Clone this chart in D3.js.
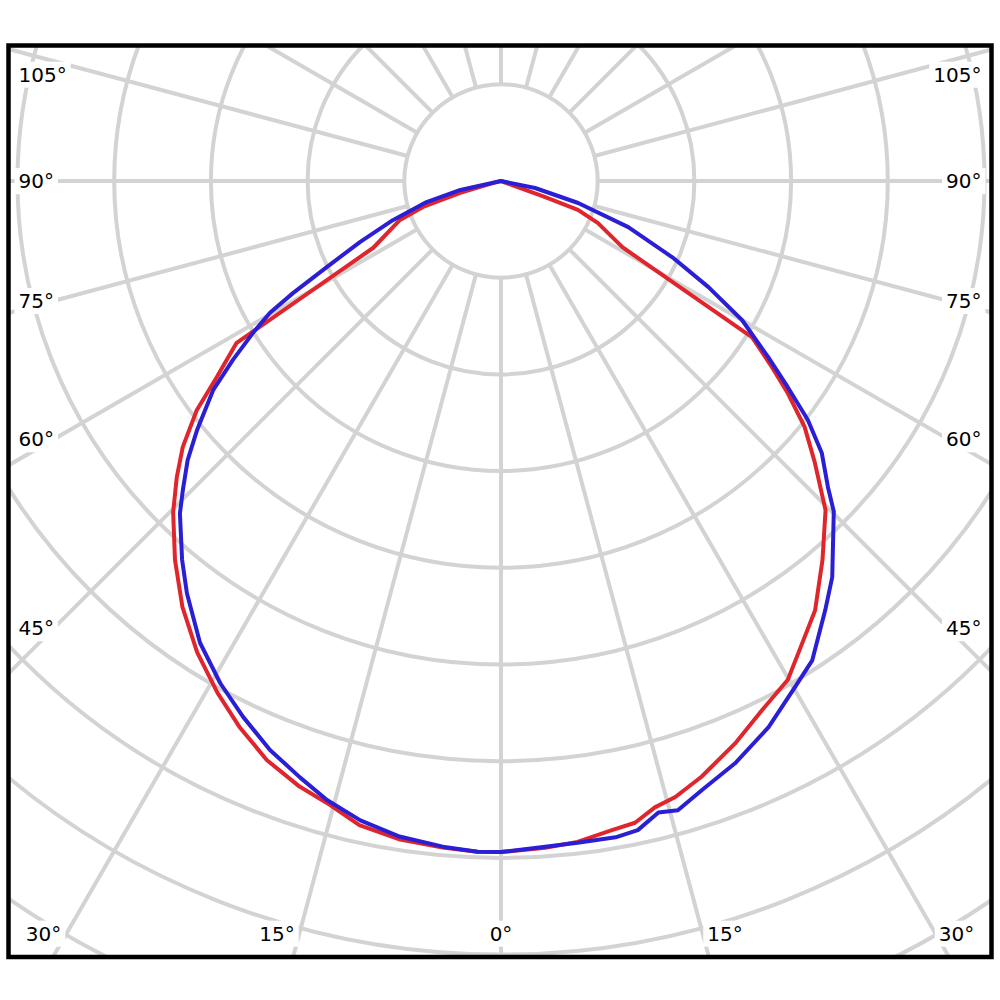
<!DOCTYPE html>
<html>
<head>
<meta charset="utf-8">
<script src="https://cdn.jsdelivr.net/npm/d3@7"></script>
<style>
  html, body { margin: 0; padding: 0; background: #fff; }
  svg { display: block; }
  .lbl { font-family: "DejaVu Sans", Verdana, sans-serif; font-size: 20px; fill: #000; }
</style>
</head>
<body>
<div id="chart"></div>
<script>
// polar intensity diagram, gamma measured from straight down
// values in cd/klm-like units, one ring = 100

var redLeftGamma = [0, 2, 5, 8.7, 12.4, 15.6, 18.4, 22, 25.6, 29, 32.8, 36.8, 40.7, 44.7, 47.6, 50.1, 53, 55.4, 58.5, 62.4, 68.9, 71.6, 73.7, 76, 90];
var redLeftValue = [694, 694, 692, 689, 682, 668, 660, 646, 626, 605, 580, 550, 517, 482, 454, 429, 394, 357, 321, 149, 112, 85, 44, 8, 0];

var redRightGamma = [0, 3.8, 6.6, 9.7, 11.8, 13.8, 15.8, 18.6, 22.6, 26.3, 29.9, 32.2, 36.2, 40.3, 44.6, 48.1, 51, 53.5, 55.5, 58.1, 61.4, 66.6, 69.4, 70, 90];
var redRightValue = [694, 691, 688, 681, 678, 667, 662, 650, 630, 610, 595, 577, 550, 514, 478, 436, 404, 369, 340, 306, 143, 109, 85, 48, 0];

var blueLeftGamma = [0, 2, 5, 8.8, 12.4, 15.7, 18.6, 22.1, 25.7, 29.2, 33.1, 37.3, 40.1, 44, 45.8, 48.3, 50.7, 54, 56.3, 58.5, 60.3, 61.7, 63.7, 66.6, 70.1, 74.2, 77.6, 90];
var blueLeftValue = [694, 694, 691, 686, 677, 665, 651, 635, 615, 595, 570, 536, 512, 478, 459, 434, 406, 368, 333, 301, 275, 244, 201, 159, 119, 80, 43, 0];

var blueRightGamma = [0, 3.8, 6.6, 9.9, 11.9, 14, 15.7, 18.3, 21.9, 26.1, 30.2, 33, 37.1, 39.9, 45.2, 46.9, 49.7, 52.1, 54.3, 56.6, 60, 62.9, 66, 70.1, 74.1, 78.4, 90];
var blueRightValue = [694, 690, 689, 689, 686, 673, 676, 663, 649, 629, 605, 591, 556, 534, 485, 463, 435, 402, 365, 331, 288, 241, 194, 140, 83, 36, 0];

var ringValues = [100, 200, 300, 400, 500, 600, 700, 800, 900];
var spokeAngles = d3.range(0, 360, 15);

var sideLabelAngles = [105, 90, 75, 60, 45];
var sideLabelText = ["105°", "90°", "75°", "60°", "45°"];
var bottomLabelAngles = [-30, -15, 0, 15, 30];
var bottomLabelText = ["30°", "15°", "0°", "15°", "30°"];

var svgWidth = 1000;
var svgHeight = 1000;

var frame = {left: 8.5, top: 45.5, right: 991.5, bottom: 957};
var cx = 501, cy = 181;

var svg = d3.select("#chart")
  .append("svg")
  .attr("width", svgWidth)
  .attr("height", svgHeight);

svg.append("defs").append("clipPath")
  .attr("id", "inside")
  .append("rect")
  .attr("x", frame.left)
  .attr("y", frame.top)
  .attr("width", frame.right - frame.left)
  .attr("height", frame.bottom - frame.top);

var rScale = d3.scaleLinear().domain([0, 100]).range([0, 96.7]);
var toRad = d3.scaleLinear().domain([0, 180]).range([0, Math.PI]);

var plot = svg.append("g")
  .attr("clip-path", "url(#inside)")
  .append("g")
  .attr("transform", `translate(${cx}, ${cy})`);

// rings
plot.selectAll(".ring")
  .data(ringValues)
  .enter()
  .append("circle")
  .attr("class", "ring")
  .attr("r", d => rScale(d))
  .attr("fill", "none")
  .attr("stroke", "#d3d3d3")
  .attr("stroke-width", 4);

// spokes start at the first ring
plot.selectAll(".spoke")
  .data(spokeAngles)
  .enter()
  .append("line")
  .attr("class", "spoke")
  .attr("x1", d => rScale(100) * Math.sin(toRad(d)))
  .attr("y1", d => rScale(100) * Math.cos(toRad(d)))
  .attr("x2", d => rScale(1200) * Math.sin(toRad(d)))
  .attr("y2", d => rScale(1200) * Math.cos(toRad(d)))
  .attr("stroke", "#d3d3d3")
  .attr("stroke-width", 4);

// angle labels with white boxes
var labels = [];
sideLabelAngles.forEach((a, i) => {
  var dy = 447 / Math.tan(toRad(a));
  var y = Math.max(frame.top + 29, cy + dy);
  labels.push({text: sideLabelText[i], x: frame.left + 10, y: y, anchor: "start"});
  labels.push({text: sideLabelText[i], x: frame.right - 10, y: y, anchor: "end"});
});
bottomLabelAngles.forEach((a, i) => {
  var x = cx + 836 * Math.tan(toRad(a));
  x = Math.max(frame.left + 35, Math.min(frame.right - 35, x));
  labels.push({text: bottomLabelText[i], x: x, y: 933.5, anchor: "middle"});
});

var labelGroup = svg.append("g");
var lg = labelGroup.selectAll("g")
  .data(labels)
  .enter()
  .append("g");

lg.append("rect").attr("fill", "#fff");
lg.append("text")
  .attr("class", "lbl")
  .attr("x", d => d.x)
  .attr("y", d => d.y)
  .attr("dy", "0.36em")
  .attr("text-anchor", d => d.anchor)
  .text(d => d.text);

lg.each(function() {
  var g = d3.select(this);
  var b = g.select("text").node().getBBox();
  g.select("rect")
    .attr("x", b.x - 4)
    .attr("y", b.y - 1)
    .attr("width", b.width + 8)
    .attr("height", b.height + 2);
});

// curves: left half goes up the left side, right half comes back down
function closedCurve(lg_, lv, rg, rv) {
  var pts = [];
  lg_.forEach((g, i) => pts.push([Math.PI + toRad(g), rScale(lv[i])]));
  for (var i = rg.length - 1; i >= 0; i--) {
    pts.push([Math.PI - toRad(rg[i]), rScale(rv[i])]);
  }
  return pts;
}

var radial = d3.lineRadial()
  .angle(d => d[0])
  .radius(d => d[1])
  .curve(d3.curveLinearClosed);

plot.append("path")
  .attr("d", radial(closedCurve(redLeftGamma, redLeftValue, redRightGamma, redRightValue)))
  .attr("fill", "none")
  .attr("stroke", "#e0262c")
  .attr("stroke-width", 4)
  .attr("stroke-linejoin", "round");

plot.append("path")
  .attr("d", radial(closedCurve(blueLeftGamma, blueLeftValue, blueRightGamma, blueRightValue)))
  .attr("fill", "none")
  .attr("stroke", "#2a1fd4")
  .attr("stroke-width", 4)
  .attr("stroke-linejoin", "round");

// frame
svg.append("rect")
  .attr("x", frame.left)
  .attr("y", frame.top)
  .attr("width", frame.right - frame.left)
  .attr("height", frame.bottom - frame.top)
  .attr("fill", "none")
  .attr("stroke", "#000")
  .attr("stroke-width", 4.5);
</script>
</body>
</html>
